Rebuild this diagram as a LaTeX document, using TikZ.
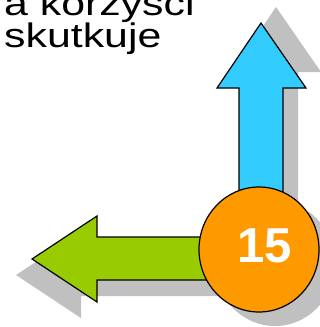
\documentclass[tikz,border=0pt]{standalone}
\usepackage{fontspec}
\setmainfont{Liberation Sans}
\definecolor{shadowgray}{HTML}{C0C0C0}
\definecolor{arrowblue}{HTML}{33CCFF}
\definecolor{arrowgreen}{HTML}{99CC00}
\definecolor{discorange}{HTML}{FF9900}
\tikzset{
  shadowfill/.style={fill=shadowgray, draw=none},
  shapeline/.style={draw=black, line width=1.2pt, line join=miter},
  textline/.style={inner sep=0pt, anchor=base west, font=\fontsize{34}{32}\selectfont},
}
\begin{document}
\begin{tikzpicture}[x=1pt,y=-1pt]
\useasboundingbox (0,0) rectangle (320,327);
\clip (0,0) rectangle (320,327);
% text
\node[textline] (line1) at (4,15) {\scalebox{1.26}[1]{a korzyści}};
\node[textline] (line2) at (4,47) {\scalebox{1.26}[1]{skutkuje}};
% shadows
\begin{scope}[shift={(15,-16)}]
  \fill[shadowfill] (261,23) -- (306,88) -- (283,88) -- (283,230) -- (239,230) -- (239,88) -- (217,88) -- cycle;
\end{scope}
\begin{scope}[shift={(-16,16)}]
  \fill[shadowfill] (32,259) -- (97,216) -- (97,237) -- (245,237) -- (245,280) -- (97,280) -- (97,302) -- cycle;
\end{scope}
\fill[shadowfill] (275,263.5) ellipse [x radius=60, y radius=62.5];
% arrows
\filldraw[shapeline, fill=arrowblue] (261,23) -- (306,88) -- (283,88) -- (283,230) -- (239,230) -- (239,88) -- (217,88) -- cycle;
\filldraw[shapeline, fill=arrowgreen] (32,259) -- (97,216) -- (97,237) -- (245,237) -- (245,280) -- (97,280) -- (97,302) -- cycle;
% disc
\filldraw[shapeline, fill=discorange] (259,249.5) ellipse [x radius=60, y radius=62.5];
\node[inner sep=0pt, anchor=base, text=white, font=\fontsize{49}{49}\selectfont\bfseries] (num) at (265,262) {15};
\end{tikzpicture}
\end{document}
